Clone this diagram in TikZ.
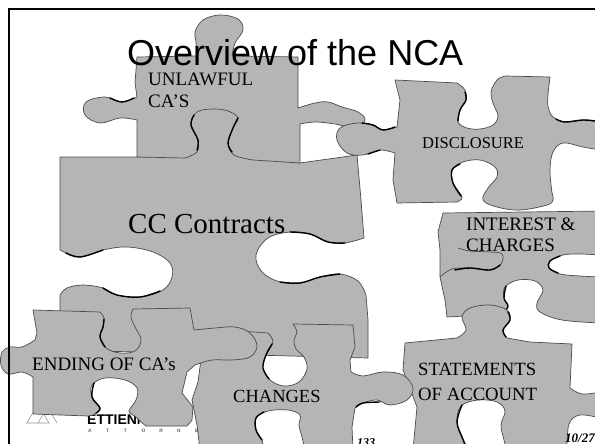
\documentclass[tikz,border=0pt]{standalone}
\usepackage{fontspec}
\setmainfont{Liberation Serif}
\newfontfamily\headfont{Liberation Sans}
\usetikzlibrary{calc}
\definecolor{piecefill}{RGB}{181,181,181}
\definecolor{pieceline}{RGB}{75,75,75}
\definecolor{logogray}{RGB}{150,150,150}
\definecolor{logodark}{RGB}{95,95,95}
\tikzset{
  piece/.style={fill=piecefill, draw=pieceline, line width=0.7pt, line join=round},
  seam/.style={draw=black, line width=1.4pt, line cap=round},
  lbl/.style={inner sep=0pt, anchor=base west, text=black, text depth=0pt},
  pz/.style={smooth, tension=0.6}
}
\begin{document}
\begin{tikzpicture}[x=1pt,y=-1pt]
\useasboundingbox (0,0) rectangle (595,444);
\clip (0,0) rectangle (595,444);
\fill[white] (0,0) rectangle (595,444);

% logo lettering, partly hidden by the pieces
\draw[logogray, line width=0.6pt] (27,423) -- (35,409) -- (41,409) -- (49,423) -- cycle;
\draw[logogray, line width=0.6pt] (38,423) -- (45,411) -- (50,411) -- (57,423);
\node[lbl, font=\headfont\bfseries\fontsize{14}{15}\selectfont] (logo) at (87,424) {ETTIENNE};
\foreach \L [count=\i] in {A,T,T,O,R,N,E,Y,S}
  \node[lbl, font=\headfont\bfseries\fontsize{4.8}{5}\selectfont, text=logodark] (att\i) at ({88+(\i-1)*17.8},432) {\L};

% CC Contracts
\path[piece] (60,157) -- (145,157) -- (145,108) -- (290,108) -- (290,162) -- (300,163) -- (357,155)
  -- (361,200) -- (364,238)
  -- plot[pz] coordinates {(364,238) (345,243) (328,242) (310,234) (290,232) (268,238) (256,255) (262,272) (280,282) (300,283) (320,277) (340,274) (358,281) (366,295)}
  -- (368,320) -- (368,358) -- (60,350) -- (60,295)
  -- plot[pz] coordinates {(60,295) (67,288) (83,285) (103,288) (117,295) (140,297) (163,290) (172,277) (170,263) (153,252) (127,247) (103,250) (80,257) (60,250)}
  -- cycle;
\draw[seam] plot[pz] coordinates {(345,243) (328,242) (310,234) (290,232)};
\draw[seam] plot[pz] coordinates {(280,282) (300,283) (320,277) (340,274)};
\draw[seam] plot[pz] coordinates {(103,288) (117,295) (140,297) (160,291)};
\draw[seam] plot[pz] coordinates {(66,253) (80,257) (103,250)};

% Unlawful credit agreements
\path[piece] (137,57) -- (197,56)
  -- plot[pz] coordinates {(197,56) (196,42) (195,32) (203,20) (220,15) (238,19) (243,30) (235,43) (232,56)}
  -- (298,57) -- (298,108)
  -- plot[pz] coordinates {(298,108) (315,103) (328,102) (342,107) (358,112) (365,120) (355,128) (335,124) (315,122) (300,124)}
  -- (300,163) -- (253,160)
  -- plot[pz] coordinates {(253,160) (234,155) (228,143) (233,128) (238,118) (228,111) (213,109) (197,112) (191,125) (198,140) (197,152) (185,158)}
  -- (137,157) -- (137,120)
  -- plot[pz] coordinates {(137,120) (120,118) (100,123) (85,115) (86,102) (105,97) (122,102) (137,97)}
  -- (135,83) -- cycle;
\draw[seam] plot[pz] coordinates {(232,152) (228,143) (233,128) (238,118)};
\draw[seam] plot[pz] coordinates {(194,115) (191,125) (198,140) (197,150)};
\draw[seam] plot[pz] coordinates {(110,98) (122,102) (134,98)};

% Disclosure
\path[piece] (395,80) -- (457,83)
  -- plot[pz] coordinates {(457,83) (465,90) (466,100) (460,110) (458,122) (467,128) (480,129) (493,125) (498,116) (493,103) (491,92) (497,80) (505,76)}
  -- (550,77)
  -- plot[pz] coordinates {(550,77) (548,95) (548,107) (553,117) (565,122) (583,120) (600,122)}
  -- (606,122) -- (606,150)
  -- plot[pz] coordinates {(600,150) (583,147) (563,143) (553,152) (550,170) (552,193)}
  -- plot[pz] coordinates {(552,193) (553,200) (547,205) (520,210) (497,207) (483,200) (488,188) (497,177) (495,167) (480,160) (463,162) (452,170) (453,183) (462,197) (457,202)}
  -- (397,203) -- (393,180) -- (395,153)
  -- plot[pz] coordinates {(395,153) (380,150) (363,155) (347,153) (337,140) (340,128) (357,123) (373,125) (383,130) (397,127)}
  -- (400,100) -- cycle;
\draw[seam] plot[pz] coordinates {(465,92) (466,100) (460,110) (458,121)};
\draw[seam] plot[pz] coordinates {(460,164) (452,170) (453,183) (461,196)};
\draw[seam] plot[pz] coordinates {(362,123) (373,125) (383,130) (395,127)};
\draw[seam] plot[pz] coordinates {(556,119) (565,122) (583,120) (595,121)};
\draw[seam] plot[pz] coordinates {(380,150) (368,154)};

% Interest and charges
\path[piece] (443,213) -- (606,211) -- (606,255)
  -- plot[pz] coordinates {(600,255) (580,254) (563,255) (550,261) (549,268) (560,274) (580,276) (600,277)}
  -- (606,277) -- (606,323)
  -- plot[pz] coordinates {(600,323) (562,320) (540,312) (537,303) (543,290) (535,281) (518,280) (505,287) (504,298) (508,306) (503,314)}
  -- (447,317) -- (445,300) -- (440,277) -- (440,250) -- (438,232) -- cycle;
\draw[pieceline, line width=0.7pt] plot[pz] coordinates {(440,277) (452,269) (470,268) (490,270) (501,264) (502,254) (490,252) (470,251) (458,248)};
\draw[seam] plot[pz] coordinates {(455,270) (470,268) (490,270) (500,265)};
\draw[seam] plot[pz] coordinates {(506,286) (504,298) (508,306) (504,312)};
\draw[seam] plot[pz] coordinates {(560,256) (550,261) (549,268) (558,273)};

% Statements of account
\path[piece] (405,343) -- (457,338)
  -- plot[pz] coordinates {(457,338) (466,330) (462,317) (470,308) (490,305) (507,310) (510,320) (503,330) (507,338)}
  -- (530,342) -- (572,344) -- (570,388)
  -- plot[pz] coordinates {(570,388) (582,394) (600,392)}
  -- (606,392) -- (606,418)
  -- plot[pz] coordinates {(600,418) (580,415) (569,424) (567,450)}
  -- (507,450)
  -- plot[pz] coordinates {(507,450) (504,440) (501,425) (505,411) (497,402) (478,400) (461,406) (457,422) (462,437) (466,450)}
  -- (413,450) -- (417,407) -- (403,370) -- cycle;
\draw[seam] plot[pz] coordinates {(508,312) (510,320) (503,330) (506,337)};
\draw[seam] plot[pz] coordinates {(462,405) (457,422) (462,437) (466,446)};

% Changes
\path[piece] (205,332) -- (240,331) -- (268,333)
  -- plot[pz] coordinates {(268,333) (273,342) (266,355) (263,368) (270,380) (284,386) (299,382) (307,369) (304,357) (296,349) (294,340) (297,332) (293,324)}
  -- (353,325) -- (355,347) -- (350,360) -- (351,372)
  -- plot[pz] coordinates {(351,372) (363,376) (383,372) (403,375) (413,388) (407,400) (390,405) (377,400) (363,403) (355,408)}
  -- (352,427) -- (353,450) -- (305,450)
  -- plot[pz] coordinates {(305,450) (302,437) (299,425) (300,415) (288,410) (268,411) (256,418) (256,430) (262,440) (263,450)}
  -- (200,450) -- (197,425) -- (192,400) -- (198,382) -- (200,367) -- cycle;
\draw[seam] plot[pz] coordinates {(272,344) (266,355) (263,368) (269,379)};
\draw[seam] plot[pz] coordinates {(264,412) (256,418) (256,430) (262,440)};
\draw[seam] plot[pz] coordinates {(380,402) (363,403) (356,407)};

% Ending of credit agreements
\path[piece] (33,310) -- (100,312)
  -- plot[pz] coordinates {(100,312) (104,318) (103,327) (100,337) (106,348) (120,353) (135,351) (141,340) (135,327) (131,317) (133,309)}
  -- (190,308) -- (194,330)
  -- plot[pz] coordinates {(194,330) (215,328) (235,327) (250,333) (257,346) (250,357) (232,360) (212,360) (195,365)}
  -- (187,372) -- (182,393) -- (193,407) -- (192,420) -- (187,426) -- (146,426) -- (141,422)
  -- plot[pz] coordinates {(141,422) (136,417) (129,411) (136,400) (137,388) (125,380) (105,378) (92,385) (92,397) (100,408) (95,414) (88,416)}
  -- (33,414) -- (33,377)
  -- plot[pz] coordinates {(33,377) (22,372) (8,374) (1,365) (2,352) (10,347) (22,347) (35,340)}
  -- (37,333) -- cycle;
\draw[seam] plot[pz] coordinates {(104,319) (103,327) (100,337) (105,347)};
\draw[seam] plot[pz] coordinates {(94,383) (92,397) (100,408) (96,413)};

% page frame
\draw[black, line width=2pt] (9,9) rectangle (640,480);

% labels
\node[lbl, font=\headfont\fontsize{36}{40}\selectfont] (title) at (127,66) {Overview of the NCA};
\node[lbl, font=\fontsize{19}{23}\selectfont, text height=13pt] (unl1) at (148,86) {UNLAWFUL};
\node[lbl, font=\fontsize{19}{23}\selectfont] (unl2) at (148,108) {CA’S};
\node[lbl, font=\fontsize{29}{33}\selectfont] (cc) at (128,233) {CC Contracts};
\node[lbl, font=\fontsize{16.5}{20}\selectfont] (disc) at (422,148) {DISCLOSURE};
\node[lbl, font=\fontsize{19}{23}\selectfont] (int1) at (466,230) {INTEREST \&};
\node[lbl, font=\fontsize{19}{23}\selectfont] (int2) at (466,251) {CHARGES};
\node[lbl, font=\fontsize{19}{23}\selectfont] (end) at (32,370) {ENDING OF CA’s};
\node[lbl, font=\fontsize{18.5}{22}\selectfont] (chg) at (233,402) {CHANGES};
\node[lbl, font=\fontsize{18.7}{22}\selectfont] (st1) at (418,375) {STATEMENTS};
\node[lbl, font=\fontsize{18.7}{22}\selectfont] (st2) at (418,400) {OF ACCOUNT};
\node[lbl, font=\bfseries\itshape\fontsize{12}{14}\selectfont] (pg) at (357,446) {133};
\node[lbl, font=\bfseries\itshape\fontsize{13}{15}\selectfont] (dt) at (565,442) {10/27};
\end{tikzpicture}
\end{document}
